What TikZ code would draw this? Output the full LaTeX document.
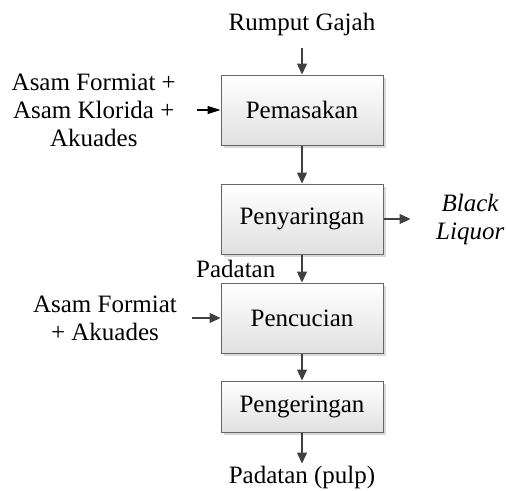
\documentclass[tikz,border=0pt]{standalone}
\usepackage{fontspec}
\setmainfont{Liberation Serif}
\usetikzlibrary{arrows.meta,positioning,shadows}

\begin{document}
\begin{tikzpicture}[>={Triangle[length=11pt,width=10pt]},line width=1.4pt,
  font=\fontsize{25}{28}\selectfont,
  proses/.style={draw=black!60,line width=1pt,top color=white,bottom color=black!12,
    minimum width=162pt,minimum height=70pt,
    drop shadow={shadow xshift=2.5pt,shadow yshift=-2.5pt,opacity=0.3}},
  teks/.style={inner sep=0pt,align=center},
  panah/.style={->,color=black!75}]

  \useasboundingbox (0,0) rectangle (506pt,-490pt);

  \node[proses] (q0) at (302pt,-110pt) {Pemasakan};
  \node[proses] (q1) [below=38pt of q0] {Penyaringan};
  \node[proses] (q2) [below=28pt of q1] {Pencucian};
  \node[proses,minimum height=51pt] (q3) [below=27pt of q2] {Pengeringan};

  \node[teks] (bahan) [above=38pt of q0] {Rumput Gajah};
  \node[teks] (asam1) [left=44pt of q0] {Asam Formiat +\\Asam Klorida +\\Akuades};
  \node[teks] (asam2) [left=43pt of q2] {Asam Formiat\\+ Akuades};
  \node[teks] (limbah) [right=52pt of q1] {\textit{Black}\\\textit{Liquor}};
  \node[teks] (pulp) [below=33pt of q3] {Padatan (pulp)};

  \path[panah] (bahan) edge[shorten <=11pt] (q0)
		(asam1) edge[black,line width=1.2pt,-{Triangle[length=13pt,width=8pt]},shorten <=20pt] (q0)
		(q0) edge (q1)
		(q1) edge[shorten >=25pt] (limbah)
		(q1) edge node[teks,text=black,left=26pt] {Padatan} (q2)
		(asam2) edge[shorten <=14pt] (q2)
		(q2) edge (q3)
		(q3) edge[shorten >=2pt] (pulp);

\end{tikzpicture}
\end{document}
